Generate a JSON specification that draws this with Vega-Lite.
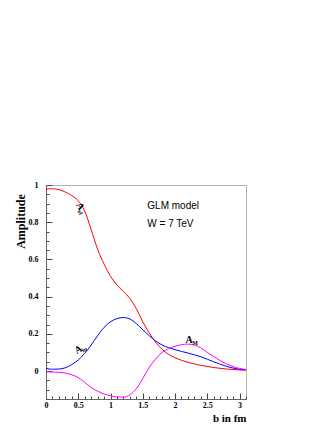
{
  "$schema": "https://vega.github.io/schema/vega-lite/v6.json",
  "width": 200,
  "height": 214,
  "autosize": "none",
  "padding": {"left": 46, "top": 185, "right": 86, "bottom": 31},
  "background": "white",
  "config": {"view": {"stroke": "#b0b0b0", "strokeWidth": 1}},
  "datasets": {
    "curves": [
      {"b": 0, "amp": 0.977, "s": "el"}, {"b": 0.1, "amp": 0.98, "s": "el"}, {"b": 0.2, "amp": 0.975, "s": "el"}, {"b": 0.3, "amp": 0.962, "s": "el"}, {"b": 0.4, "amp": 0.943, "s": "el"}, {"b": 0.5, "amp": 0.915, "s": "el"}, {"b": 0.6, "amp": 0.86, "s": "el"}, {"b": 0.7, "amp": 0.76, "s": "el"}, {"b": 0.8, "amp": 0.655, "s": "el"}, {"b": 0.9, "amp": 0.575, "s": "el"}, {"b": 1.0, "amp": 0.51, "s": "el"}, {"b": 1.1, "amp": 0.462, "s": "el"}, {"b": 1.2, "amp": 0.428, "s": "el"}, {"b": 1.3, "amp": 0.39, "s": "el"}, {"b": 1.4, "amp": 0.335, "s": "el"}, {"b": 1.5, "amp": 0.265, "s": "el"}, {"b": 1.6, "amp": 0.205, "s": "el"}, {"b": 1.7, "amp": 0.155, "s": "el"}, {"b": 1.8, "amp": 0.117, "s": "el"}, {"b": 1.9, "amp": 0.09, "s": "el"}, {"b": 2.0, "amp": 0.072, "s": "el"}, {"b": 2.2, "amp": 0.047, "s": "el"}, {"b": 2.4, "amp": 0.031, "s": "el"}, {"b": 2.6, "amp": 0.019, "s": "el"}, {"b": 2.8, "amp": 0.011, "s": "el"}, {"b": 3.0, "amp": 0.006, "s": "el"}, {"b": 3.1, "amp": 0.005, "s": "el"},
      {"b": 0, "amp": 0.014, "s": "in"}, {"b": 0.1, "amp": 0.01, "s": "in"}, {"b": 0.2, "amp": 0.011, "s": "in"}, {"b": 0.3, "amp": 0.018, "s": "in"}, {"b": 0.4, "amp": 0.035, "s": "in"}, {"b": 0.5, "amp": 0.06, "s": "in"}, {"b": 0.6, "amp": 0.095, "s": "in"}, {"b": 0.7, "amp": 0.14, "s": "in"}, {"b": 0.8, "amp": 0.19, "s": "in"}, {"b": 0.9, "amp": 0.235, "s": "in"}, {"b": 1.0, "amp": 0.265, "s": "in"}, {"b": 1.1, "amp": 0.282, "s": "in"}, {"b": 1.2, "amp": 0.288, "s": "in"}, {"b": 1.3, "amp": 0.28, "s": "in"}, {"b": 1.4, "amp": 0.255, "s": "in"}, {"b": 1.5, "amp": 0.222, "s": "in"}, {"b": 1.6, "amp": 0.19, "s": "in"}, {"b": 1.7, "amp": 0.162, "s": "in"}, {"b": 1.8, "amp": 0.14, "s": "in"}, {"b": 1.9, "amp": 0.126, "s": "in"}, {"b": 2.0, "amp": 0.115, "s": "in"}, {"b": 2.2, "amp": 0.097, "s": "in"}, {"b": 2.4, "amp": 0.077, "s": "in"}, {"b": 2.6, "amp": 0.05, "s": "in"}, {"b": 2.8, "amp": 0.025, "s": "in"}, {"b": 3.0, "amp": 0.01, "s": "in"}, {"b": 3.1, "amp": 0.007, "s": "in"},
      {"b": 0, "amp": -0.004, "s": "M"}, {"b": 0.2, "amp": -0.007, "s": "M"}, {"b": 0.3, "amp": -0.011, "s": "M"}, {"b": 0.4, "amp": -0.02, "s": "M"}, {"b": 0.5, "amp": -0.035, "s": "M"}, {"b": 0.6, "amp": -0.06, "s": "M"}, {"b": 0.7, "amp": -0.088, "s": "M"}, {"b": 0.8, "amp": -0.108, "s": "M"}, {"b": 0.9, "amp": -0.123, "s": "M"}, {"b": 1.0, "amp": -0.133, "s": "M"}, {"b": 1.1, "amp": -0.139, "s": "M"}, {"b": 1.2, "amp": -0.14, "s": "M"}, {"b": 1.3, "amp": -0.128, "s": "M"}, {"b": 1.4, "amp": -0.095, "s": "M"}, {"b": 1.5, "amp": -0.04, "s": "M"}, {"b": 1.6, "amp": 0.02, "s": "M"}, {"b": 1.7, "amp": 0.065, "s": "M"}, {"b": 1.8, "amp": 0.1, "s": "M"}, {"b": 1.9, "amp": 0.12, "s": "M"}, {"b": 2.0, "amp": 0.133, "s": "M"}, {"b": 2.1, "amp": 0.142, "s": "M"}, {"b": 2.2, "amp": 0.145, "s": "M"}, {"b": 2.3, "amp": 0.14, "s": "M"}, {"b": 2.4, "amp": 0.125, "s": "M"}, {"b": 2.5, "amp": 0.1, "s": "M"}, {"b": 2.6, "amp": 0.078, "s": "M"}, {"b": 2.7, "amp": 0.056, "s": "M"}, {"b": 2.8, "amp": 0.038, "s": "M"}, {"b": 2.9, "amp": 0.024, "s": "M"}, {"b": 3.0, "amp": 0.014, "s": "M"}, {"b": 3.1, "amp": 0.009, "s": "M"}
    ]
  },
  "layer": [
    {
      "data": {"name": "curves"},
      "mark": {"type": "line", "interpolate": "monotone", "strokeWidth": 1, "clip": true},
      "encoding": {
        "x": {"field": "b", "type": "quantitative",
          "scale": {"domain": [0, 3.1], "nice": false, "zero": false},
          "axis": {
            "values": [0,0.1,0.2,0.3,0.4,0.5,0.6,0.7,0.8,0.9,1,1.1,1.2,1.3,1.4,1.5,1.6,1.7,1.8,1.9,2,2.1,2.2,2.3,2.4,2.5,2.6,2.7,2.8,2.9,3,3.1],
            "tickCount": 100,
            "format": "~g",
            "labelExpr": "indexof([0,0.5,1,1.5,2,2.5,3], datum.value) >= 0 ? datum.label : ''",
            "tickSize": {"condition": {"test": "indexof([0,0.5,1,1.5,2,2.5,3], datum.value) >= 0", "value": -6}, "value": -3},
            "tickColor": "#444", "domainColor": "#666", "grid": false,
            "labelFont": "Liberation Serif", "labelFontWeight": "bold", "labelFontSize": 8, "labelColor": "#000",
            "labelPadding": 8, "labelFlush": false, "labelOverlap": false,
            "title": "b in fm", "titleFont": "Liberation Serif", "titleFontWeight": "bold", "titleFontSize": 11, "titleColor": "#000",
            "titleX": 200, "titleY": 19, "titleAlign": "right", "titleBaseline": "middle"
          }
        },
        "y": {"field": "amp", "type": "quantitative",
          "scale": {"domain": [-0.15, 1.0], "nice": false, "zero": false},
          "axis": {
            "values": [-0.15,-0.1,-0.05,0,0.05,0.1,0.15,0.2,0.25,0.3,0.35,0.4,0.45,0.5,0.55,0.6,0.65,0.7,0.75,0.8,0.85,0.9,0.95,1],
            "tickCount": 100,
            "format": "~g",
            "labelExpr": "indexof([0,0.2,0.4,0.6,0.8,1], datum.value) >= 0 ? datum.label : ''",
            "tickSize": {"condition": {"test": "indexof([0,0.2,0.4,0.6,0.8,1], datum.value) >= 0", "value": -6}, "value": -3},
            "tickColor": "#444", "domainColor": "#666", "grid": false,
            "labelFont": "Liberation Serif", "labelFontWeight": "bold", "labelFontSize": 8, "labelColor": "#000",
            "labelPadding": 14, "labelOverlap": false, "labelFlush": false,
            "title": "Amplitude", "titleFont": "Liberation Serif", "titleFontWeight": "bold", "titleFontSize": 12, "titleColor": "#000",
            "titleX": -26, "titleY": 36, "titleAlign": "center", "titleBaseline": "middle", "titleAngle": -90
          }
        },
        "color": {"field": "s", "type": "nominal", "legend": null,
          "scale": {"domain": ["el", "in", "M"], "range": ["#ff0000", "#0000ff", "#ff00ff"]}}
      }
    },
    {
      "data": {"values": [{"b": 1.57, "amp": 0.885, "t": "GLM model"}, {"b": 1.57, "amp": 0.79, "t": "W = 7 TeV"}]},
      "mark": {"type": "text", "align": "left", "baseline": "middle", "font": "Liberation Sans", "fontSize": 10, "color": "#000"},
      "encoding": {"x": {"field": "b", "type": "quantitative"}, "y": {"field": "amp", "type": "quantitative"}, "text": {"field": "t"}}
    },
    {
      "data": {"values": [{"b": 0.53, "amp": 0.885, "t": "A"}]},
      "mark": {"type": "text", "align": "center", "baseline": "middle", "font": "Liberation Serif", "fontWeight": "bold", "fontSize": 10, "angle": 60, "color": "#000"},
      "encoding": {"x": {"field": "b", "type": "quantitative"}, "y": {"field": "amp", "type": "quantitative"}, "text": {"field": "t"}}
    },
    {
      "data": {"values": [{"b": 0.53, "amp": 0.885, "t": "el"}]},
      "mark": {"type": "text", "align": "left", "baseline": "middle", "font": "Liberation Serif", "fontWeight": "bold", "fontSize": 6, "angle": 60, "dx": 3, "dy": 3, "color": "#000"},
      "encoding": {"x": {"field": "b", "type": "quantitative"}, "y": {"field": "amp", "type": "quantitative"}, "text": {"field": "t"}}
    },
    {
      "data": {"values": [{"b": 0.5, "amp": 0.115, "t": "A"}]},
      "mark": {"type": "text", "align": "center", "baseline": "middle", "font": "Liberation Serif", "fontWeight": "bold", "fontSize": 10, "angle": -30, "color": "#000"},
      "encoding": {"x": {"field": "b", "type": "quantitative"}, "y": {"field": "amp", "type": "quantitative"}, "text": {"field": "t"}}
    },
    {
      "data": {"values": [{"b": 0.5, "amp": 0.115, "t": "in"}]},
      "mark": {"type": "text", "align": "left", "baseline": "middle", "font": "Liberation Serif", "fontWeight": "bold", "fontSize": 6, "angle": -30, "dx": 3, "dy": 3, "color": "#000"},
      "encoding": {"x": {"field": "b", "type": "quantitative"}, "y": {"field": "amp", "type": "quantitative"}, "text": {"field": "t"}}
    },
    {
      "data": {"values": [{"b": 2.22, "amp": 0.168, "t": "A"}]},
      "mark": {"type": "text", "align": "center", "baseline": "middle", "font": "Liberation Serif", "fontWeight": "bold", "fontSize": 10, "color": "#000"},
      "encoding": {"x": {"field": "b", "type": "quantitative"}, "y": {"field": "amp", "type": "quantitative"}, "text": {"field": "t"}}
    },
    {
      "data": {"values": [{"b": 2.22, "amp": 0.168, "t": "M"}]},
      "mark": {"type": "text", "align": "left", "baseline": "middle", "font": "Liberation Serif", "fontWeight": "bold", "fontSize": 6, "dx": 3, "dy": 3, "color": "#000"},
      "encoding": {"x": {"field": "b", "type": "quantitative"}, "y": {"field": "amp", "type": "quantitative"}, "text": {"field": "t"}}
    }
  ]
}
